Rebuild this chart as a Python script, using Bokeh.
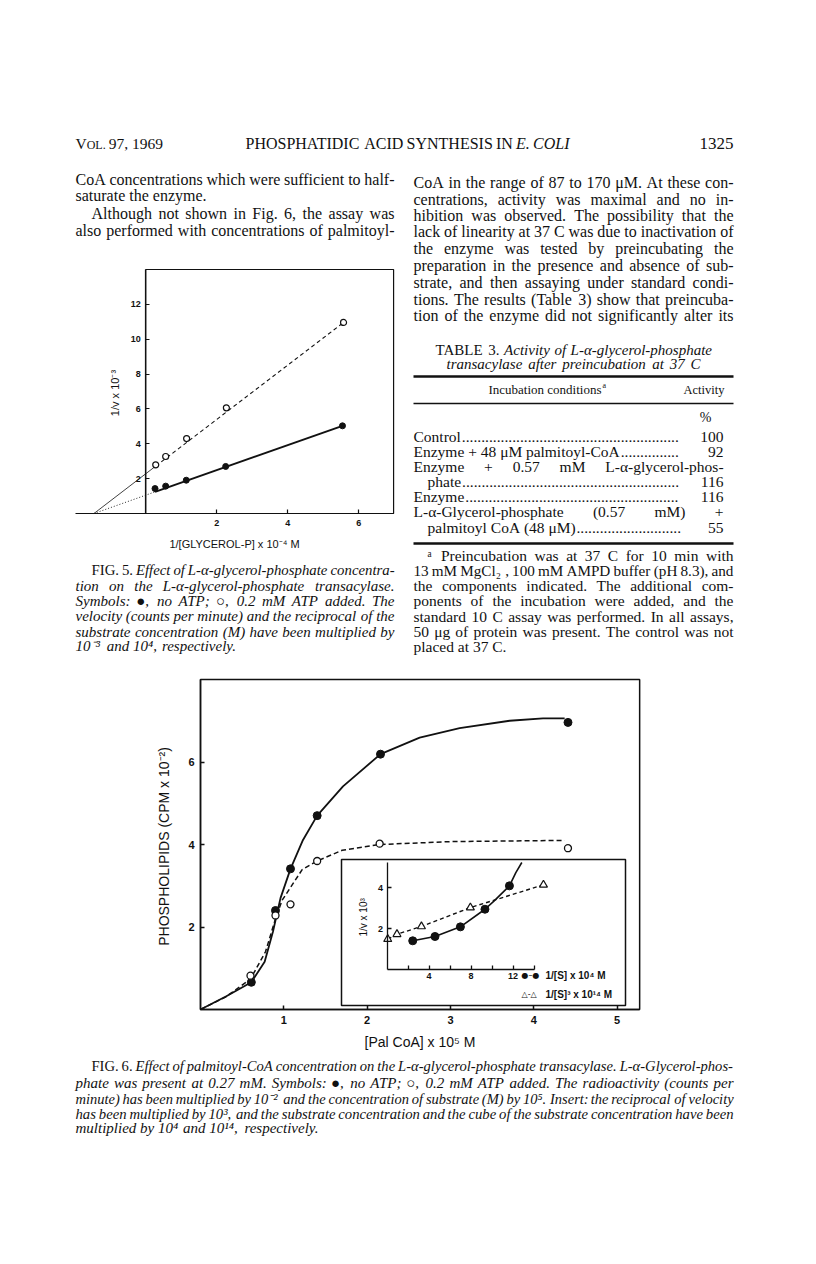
from bokeh.plotting import figure
from bokeh.models import Range1d, LinearAxis, FixedTicker, ColumnDataSource
from bokeh.core.properties import value
from bokeh.embed import file_html
from bokeh.resources import INLINE

# ---------------- chart data ----------------
# Fig. 5: 1/v (x10^-3) vs 1/[glycerol-P] (x10^4 M)
fig5_inv_gp_no_atp = [0.26, 0.56, 1.14, 2.25, 5.54]
fig5_inv_v_no_atp = [1.43, 1.57, 1.91, 2.70, 5.03]
fig5_inv_gp_atp = [0.28, 0.56, 1.15, 2.27, 5.57]
fig5_inv_v_atp = [2.79, 3.27, 4.30, 6.06, 10.96]
# the drawn straight lines: common x-intercept, at first point, at last point
fig5_line_no_atp_x = [-1.46, 0.26, 5.54]
fig5_line_no_atp_y = [0.0, 1.24, 5.03]
fig5_line_atp_x = [-1.46, 0.28, 5.57]
fig5_line_atp_y = [0.0, 2.72, 10.96]
fig5_x_ticks = [2, 4, 6]
fig5_y_ticks = [2, 4, 6, 8, 10, 12]

# Fig. 6: phospholipids (CPM x10^-2) vs [PalCoA] (x10^5 M)
fig6_palcoa_no_atp = [0.61, 0.90, 1.08, 1.40, 2.16, 4.41]
fig6_cpm_no_atp = [0.66, 2.40, 3.41, 4.70, 6.19, 6.96]
fig6_palcoa_atp = [0.60, 0.90, 1.08, 1.40, 2.15, 4.41]
fig6_cpm_atp = [0.82, 2.28, 2.55, 3.60, 4.02, 3.91]
# hand-drawn curves, points
fig6_curve_no_atp_x = [0, 0.31, 0.61, 0.77, 0.87, 0.96, 1.08, 1.23, 1.40, 1.71, 2.16, 2.63, 3.11, 3.71, 4.11, 4.37]
fig6_curve_no_atp_y = [0, 0.32, 0.66, 1.16, 1.89, 2.70, 3.41, 4.11, 4.70, 5.41, 6.19, 6.59, 6.82, 7.00, 7.06, 7.06]
fig6_curve_atp_x = [0, 0.30, 0.60, 0.78, 0.90, 0.98, 1.10, 1.22, 1.40, 1.70, 2.15, 3.00, 4.37]
fig6_curve_atp_y = [0, 0.30, 0.74, 1.40, 2.20, 2.65, 3.02, 3.39, 3.60, 3.86, 4.00, 4.07, 4.10]
fig6_x_ticks = [1, 2, 3, 4, 5]
fig6_y_ticks = [2, 4, 6]

# Fig. 6 insert: 1/v (x10^3) vs 1/[S] (x10^4 M) and 1/[S]^3 (x10^14 M)
ins_inv_s = [2.45, 4.57, 6.99, 9.33, 11.66]
ins_inv_v_s = [1.40, 1.61, 2.08, 2.94, 4.08]
ins_curve_s_x = [2.45, 4.57, 6.99, 9.33, 10.21, 11.66, 12.27, 12.84]
ins_curve_s_y = [1.40, 1.61, 2.08, 2.94, 3.35, 4.08, 4.73, 5.22]
ins_inv_s3 = [0.07, 0.95, 3.28, 7.94, 14.9]
ins_inv_v_s3 = [1.48, 1.72, 2.10, 3.02, 4.13]
ins_x_ticks = [4, 8, 12]
ins_x_minor = [2, 6, 10, 14]
ins_y_ticks = [2, 4]

# Table 3
table_labels = ["Control", "Enzyme + 48 \u03bcM palmitoyl-CoA", "Enzyme + 0.57 mM L-\u03b1-glycerol-phos-",
                "phate", "Enzyme", "L-\u03b1-Glycerol-phosphate (0.57 mM) +", "palmitoyl CoA (48 \u03bcM)"]
table_values = ["100", "92", "", "116", "116", "", "55"]

# ---------------- page text ----------------
left_col = ["CoA concentrations which were sufficient to half-",
            "saturate the enzyme.",
            "Although not shown in Fig. 6, the assay was",
            "also performed with concentrations of palmitoyl-"]
right_col = ["CoA in the range of 87 to 170 \u03bcM. At these con-",
             "centrations, activity was maximal and no in-",
             "hibition was observed. The possibility that the",
             "lack of linearity at 37 C was due to inactivation of",
             "the enzyme was tested by preincubating the",
             "preparation in the presence and absence of sub-",
             "strate, and then assaying under standard condi-",
             "tions. The results (Table 3) show that preincuba-",
             "tion of the enzyme did not significantly alter its"]
footnote = ["\u1d43 Preincubation was at 37 C for 10 min with",
            "13 mM MgCl\u2082 , 100 mM AMPD buffer (pH 8.3), and",
            "the components indicated. The additional com-",
            "ponents of the incubation were added, and the",
            "standard 10 C assay was performed. In all assays,",
            "50 \u03bcg of protein was present. The control was not",
            "placed at 37 C."]
cap5 = ["\u00a7FIG. \u00a75. Effect of L-\u03b1-glycerol-phosphate concentra-",
        "tion on the L-\u03b1-glycerol-phosphate transacylase.",
        "Symbols: \u25cf, no ATP; \u25cb, 0.2 mM ATP added. The",
        "velocity (counts per minute) and the reciprocal of the",
        "substrate concentration (M) have been multiplied by",
        "10\u207b\u00b3 and 10\u2074, respectively."]
cap6 = ["\u00a7FIG. \u00a76. Effect of palmitoyl-CoA concentration on the L-\u03b1-glycerol-phosphate transacylase. L-\u03b1-Glycerol-phos-",
        "phate was present at 0.27 mM. Symbols: \u25cf, no ATP; \u25cb, 0.2 mM ATP added. The radioactivity (counts per",
        "minute) has been multiplied by 10\u207b\u00b2 and the concentration of substrate (M) by 10\u2075. Insert: the reciprocal of velocity",
        "has been multiplied by 10\u00b3, and the substrate concentration and the cube of the substrate concentration have been",
        "multiplied by 10\u2074 and 10\u00b9\u2074, respectively."]

# ---------------- page figure ----------------
W, H = 800, 1240
X0, Y0 = 8, 8
p = figure(width=W, height=H, x_range=Range1d(X0, X0 + W), y_range=Range1d(Y0 + H, Y0),
           x_axis_type=None, y_axis_type=None, toolbar_location=None, output_backend="svg",
           min_border=0, outline_line_color=None)
p.background_fill_color = "white"
p.border_fill_color = "white"


def xr(v0, ppu):
    return Range1d((X0 - v0) / ppu, (X0 + W - v0) / ppu)


def yr(v0, ppu):
    return Range1d((v0 - (Y0 + H)) / ppu, (v0 - Y0) / ppu)


p.extra_x_ranges = {"f5x": xr(153.3, 35.5), "f6x": xr(208.0, 83.33), "inx": xr(394.5, 10.5)}
p.extra_y_ranges = {"f5y": yr(521.0, 17.43), "f6y": yr(1017.0, 41.25), "iny": yr(977.0, 20.5)}

# ---- text helpers (Times metrics) ----
_UR = [722, 667, 667, 722, 611, 556, 722, 722, 333, 389, 722, 611, 889, 722, 722, 556, 722, 667, 556, 611, 722, 722, 944, 722, 722, 611]
_LR = [444, 500, 444, 500, 444, 333, 500, 500, 278, 278, 500, 278, 778, 500, 500, 500, 500, 333, 389, 278, 500, 500, 722, 500, 500, 444]
_UI = [611, 611, 667, 722, 611, 611, 722, 722, 333, 444, 667, 556, 833, 667, 722, 611, 722, 611, 500, 556, 722, 611, 833, 611, 556, 556]
_LI = [500, 500, 444, 500, 444, 278, 500, 500, 278, 278, 444, 278, 722, 500, 500, 500, 500, 389, 389, 278, 500, 444, 667, 444, 444, 389]
PUN = {" ": 250, ",": 250, ".": 250, "-": 333, "(": 333, ")": 333, ":": 278, ";": 278, "%": 833, "+": 564,
       "[": 333, "]": 333, "/": 278, "\u00b2": 420, "\u00b3": 420, "\u00b9": 420, "\u2074": 420, "\u2075": 420,
       "\u207b": 420, "\u2082": 420, "\u1d43": 380, "\u25cf": 700, "\u25cb": 700}


def cw(c, italic):
    if "A" <= c <= "Z":
        return (_UI if italic else _UR)[ord(c) - 65]
    if "a" <= c <= "z":
        return (_LI if italic else _LR)[ord(c) - 97]
    if "0" <= c <= "9":
        return 500
    return PUN.get(c, 520)


def tw(s, size, italic=False):
    return sum(cw(c, italic) for c in s) * size / 1000.0


TEXTS = {}


def put(x, y, t, size, style="normal", font="Liberation Serif", align="left"):
    key = (font, style, round(size, 1), align)
    d = TEXTS.setdefault(key, {"x": [], "y": [], "text": []})
    d["x"].append(x)
    d["y"].append(y)
    d["text"].append(t)


def place_line(txt, x0, x1, y, size, base="normal", justify=True):
    toks = []
    for w in txt.split():
        alt = w.startswith("\u00a7")
        w2 = w[1:] if alt else w
        st = ("italic" if base == "normal" else "normal") if alt else base
        toks.append((w2, st))
    n = len(toks)
    units = sum(sum(cw(c, st == "italic") for c in w2) for w2, st in toks)
    min_units = units + 200 * max(n - 1, 0)
    if justify and min_units * size / 1000.0 > (x1 - x0):
        size = (x1 - x0) * 1000.0 / min_units
    items = [(w2, st, tw(w2, size, st == "italic")) for w2, st in toks]
    total = sum(i[2] for i in items)
    gap = 0.25 * size
    if justify and n > 1:
        gap = (x1 - x0 - total) / (n - 1)
    x = x0
    for w2, st, wd in items:
        put(x, y, w2, size, st)
        x += wd + gap
    return x - gap


def block(lines, ys, x0, x1, size, base="normal", indents=None, ragged=None):
    for i, (ln, y) in enumerate(zip(lines, ys)):
        ind = indents[i] if indents else 0
        just = not (ragged and i in ragged)
        place_line(ln, x0 + ind, x1, y, size, base, just)


# header
put(83, 151, "V", 15.5)
put(83 + tw("V", 15.5), 152, "OL.", 12)
put(83 + tw("V", 15.5) + tw("OL. ", 12), 151, "97, 1969", 15.5)
place_line("PHOSPHATIDIC ACID SYNTHESIS IN \u00a7E. \u00a7COLI", 253, 577, 151, 16)
put(741, 151, "1325", 17, align="right")

# body columns
block(left_col, [187, 203, 221, 238], 83, 402, 16, indents=[0, 0, 16, 0], ragged=[1])
block(right_col, [190, 207, 223, 239, 256, 273, 290, 307, 323], 421, 741, 16)

# table 3
place_line("\u00a7TABLE \u00a73. Activity of L-\u03b1-glycerol-phosphate", 443, 720, 357, 15, base="italic")
place_line("transacylase after preincubation at 37 C", 454, 708, 371, 15, base="italic")
p.segment(x0=[421, 421, 421], y0=[384, 411, 551], x1=[741, 741, 741], y1=[384, 411, 551],
          line_width=[2.4, 1.6, 2.4], line_color="#111")
put(496, 397, "Incubation conditions", 13)
put(496 + tw("Incubation conditions", 13) + 1, 393, "a", 8)
put(732, 397, "Activity", 12.5, align="right")
put(713, 425, "%", 14, align="center")
row_y = [444, 459, 474, 489, 504, 519, 535]
row_indent = [0, 0, 0, 14, 0, 0, 14]
for lab, val, y, ind in zip(table_labels, table_values, row_y, row_indent):
    full = val == ""
    end = place_line(lab, 421 + ind, 731, y, 15.5, justify=full)
    if not full:
        nd = int((690 - end - 1) / 3.9)
        put(end + 1, y, "." * max(nd, 0), 15.5)
        put(731, y, val, 15.5, align="right")

# footnote & captions
block(footnote, [563, 578, 593, 608, 624, 639, 654], 421, 741, 15.5, indents=[14, 0, 0, 0, 0, 0, 0], ragged=[6])
block(cap5, [577, 593, 608, 623, 639, 653], 83, 402, 15, base="italic", indents=[16, 0, 0, 0, 0, 0], ragged=[5])
block(cap6, [1073, 1090, 1106, 1121, 1135], 83, 741, 15, base="italic", indents=[16, 0, 0, 0, 0], ragged=[4])

# ---------------- axes ----------------
SANS = "Liberation Sans"


def add_axis(side, xn, yn, loc, bounds, ticks, minor=None, label=None, lsize=10, lstand=5,
             asize=11, astand=8, lw=1.4, tin=4, tout=0):
    ax = LinearAxis(x_range_name=xn, y_range_name=yn, fixed_location=loc, bounds=bounds,
                    ticker=FixedTicker(ticks=ticks, minor_ticks=minor or []))
    ax.axis_line_width = lw
    ax.axis_line_color = "#111"
    ax.major_tick_line_width = lw
    ax.major_tick_line_color = "#111"
    ax.major_tick_in = tin
    ax.major_tick_out = tout
    ax.minor_tick_line_width = lw
    ax.minor_tick_line_color = "#111"
    ax.minor_tick_in = tin if minor else 0
    ax.minor_tick_out = 0
    ax.major_label_text_font = SANS
    ax.major_label_text_font_style = "bold"
    ax.major_label_text_font_size = f"{lsize}px"
    ax.major_label_text_color = "#111"
    ax.major_label_standoff = lstand
    if label:
        ax.axis_label = label
        ax.axis_label_text_font = SANS
        ax.axis_label_text_font_style = "normal"
        ax.axis_label_text_font_size = f"{asize}px"
        ax.axis_label_text_color = "#111"
        ax.axis_label_standoff = astand
    p.add_layout(ax, side)
    return ax


# ---------------- Fig. 5 ----------------
F5 = dict(x_range_name="f5x", y_range_name="f5y")
p.quad(left=[0], right=[6.98], bottom=[0], top=[14.0], fill_color=None, line_color="#111", line_width=1.2, **F5)
add_axis("below", "f5x", "f5y", 0, (-1.98, 6.98), fig5_x_ticks, label="1/[GLYCEROL-P] x 10\u207b\u2074 M",
         lsize=9, lstand=6, asize=11, astand=9, lw=1.2)
add_axis("left", "f5x", "f5y", 0, (0, 14.0), fig5_y_ticks, label="1/v  x 10\u207b\u00b3",
         lsize=9, lstand=5, asize=11, astand=6, lw=1.2)
p.line(fig5_line_no_atp_x[:2], fig5_line_no_atp_y[:2], line_color="#111", line_width=0.9, line_dash="1 2", **F5)
p.line(fig5_line_no_atp_x[1:], fig5_line_no_atp_y[1:], line_color="#111", line_width=2.0, **F5)
p.line(fig5_line_atp_x[:2], fig5_line_atp_y[:2], line_color="#111", line_width=0.8, **F5)
p.line(fig5_line_atp_x[1:], fig5_line_atp_y[1:], line_color="#111", line_width=1.1, line_dash="4 3", **F5)
p.scatter(fig5_inv_gp_no_atp, fig5_inv_v_no_atp, marker="circle", size=6, fill_color="#111", line_color="#111", **F5)
p.scatter(fig5_inv_gp_atp, fig5_inv_v_atp, marker="circle", size=6, fill_color="white", line_color="#111",
          line_width=1.2, **F5)

# ---------------- Fig. 6 ----------------
F6 = dict(x_range_name="f6x", y_range_name="f6y")
p.quad(left=[0], right=[5.27], bottom=[0], top=[8.0], fill_color=None, line_color="#111", line_width=1.5, **F6)
add_axis("below", "f6x", "f6y", 0, (0, 5.27), fig6_x_ticks, label="[Pal CoA] x 10\u2075 M",
         lsize=11, lstand=6, asize=14, astand=7, lw=1.5)
add_axis("left", "f6x", "f6y", 0, (0, 8.0), fig6_y_ticks, label="PHOSPHOLIPIDS  (CPM x 10\u207b\u00b2)",
         lsize=11, lstand=6, asize=14, astand=13, lw=1.5)
p.line(fig6_curve_no_atp_x, fig6_curve_no_atp_y, line_color="#111", line_width=1.8, **F6)
p.line(fig6_curve_atp_x, fig6_curve_atp_y, line_color="#111", line_width=1.5, line_dash="5 3", **F6)
p.scatter(fig6_palcoa_no_atp, fig6_cpm_no_atp, marker="circle", size=8, fill_color="#111", line_color="#111", **F6)
p.scatter(fig6_palcoa_atp, fig6_cpm_atp, marker="circle", size=7, fill_color="white", line_color="#111",
          line_width=1.3, **F6)

# ---------------- insert ----------------
p.quad(left=[349], right=[633], top=[867], bottom=[1013], fill_color="white", line_color="#111", line_width=1.5)
FI = dict(x_range_name="inx", y_range_name="iny")
add_axis("below", "inx", "iny", 0, (0, 14.0), ins_x_ticks, minor=ins_x_minor, lsize=9, lstand=3, lw=1.3)
add_axis("left", "inx", "iny", 0, (0, 5.2), ins_y_ticks, label="1/v  x 10\u00b3", lsize=9, lstand=4,
         asize=10, astand=6, lw=1.3)
p.line(ins_curve_s_x, ins_curve_s_y, line_color="#111", line_width=1.6, **FI)
p.line(ins_inv_s3, ins_inv_v_s3, line_color="#111", line_width=1.4, line_dash="4 3", **FI)
p.scatter(ins_inv_s, ins_inv_v_s, marker="circle", size=8, fill_color="#111", line_color="#111", **FI)
p.scatter(ins_inv_s3, ins_inv_v_s3, marker="triangle", size=8, fill_color="white", line_color="#111",
          line_width=1.2, **FI)
put(529, 983, "\u25cf\u2013\u25cf", 8, font="DejaVu Sans")
put(553, 983, "1/[S] x 10\u2074 M", 10, style="bold", font=SANS)
put(529, 1002, "\u25b3-\u25b3", 8, font="DejaVu Sans")
put(553, 1002, "1/[S]\u00b3 x 10\u00b9\u2074 M", 10, style="bold", font=SANS)

# ---------------- render texts ----------------
for (font, style, size, align), d in TEXTS.items():
    p.text(x="x", y="y", text="text", source=ColumnDataSource(d), text_font=value(font),
           text_font_style=style, text_font_size=f"{size}px", text_align=align,
           text_baseline="middle", text_color="#111")

open("out.html", "w").write(file_html(p, INLINE))
